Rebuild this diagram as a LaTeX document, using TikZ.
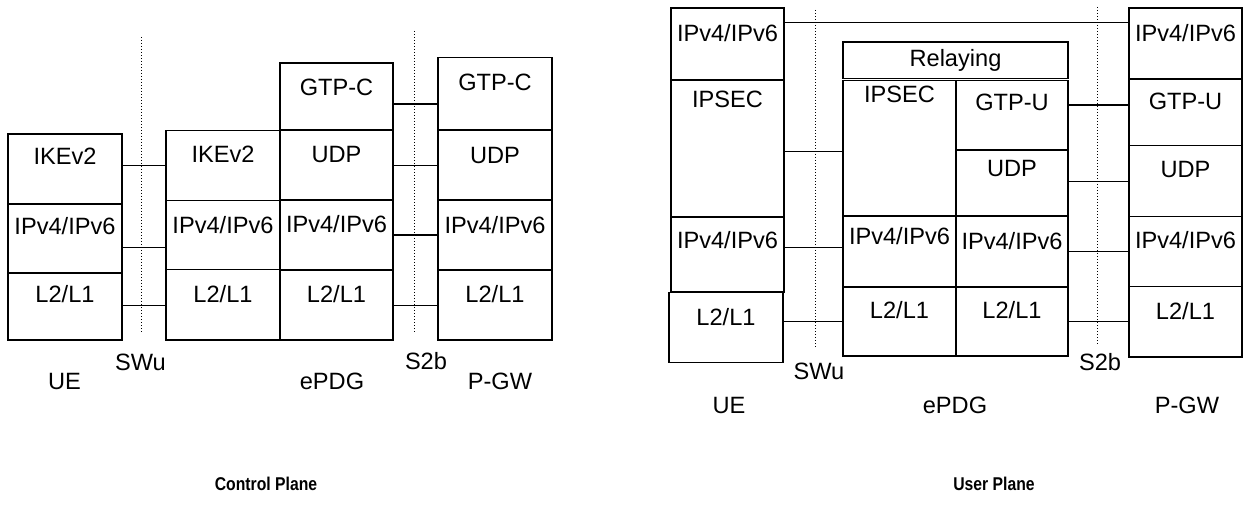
\documentclass[tikz,border=0pt]{standalone}
\usepackage{fontspec}
\setmainfont{Liberation Sans}
\tikzset{
  box/.style={draw, line width=1.6pt, outer sep=0pt, inner sep=0pt, anchor=north west},
  txt/.style={anchor=base, inner sep=0pt, font=\fontsize{23.6}{28}\selectfont},
  ttl/.style={anchor=base, inner sep=0pt, font=\fontsize{18.5}{22}\selectfont\bfseries},
  conn/.style={line width=1.4pt},
  sepline/.style={line width=1pt, dash pattern=on 1pt off 2pt},
}
% #1 baseline offset, #2 name, #3 x1, #4 y1, #5 x2, #6 y2, #7 text
\newcommand\layerbox[7][33]{%
  \node[box, minimum width={(#5)-(#3)}, minimum height={(#6)-(#4)}] (#2) at (#3,#4) {};
  \node[txt] (#2t) at ([yshift=-#1pt]#2.north) {#7};
}
\begin{document}
\begin{tikzpicture}[x=1pt,y=-1pt]
\useasboundingbox (0,0) rectangle (1243,513);
% ---------------- Control plane ----------------
\layerbox[31]{ueike}{8}{134}{122}{204}{IKEv2}
\layerbox[31]{ueip}{8}{204}{122}{273}{IPv4/IPv6}
\layerbox[29.4]{uel}{8}{273}{122}{340}{L2/L1}
\layerbox[32.3]{epike}{166}{130.5}{280}{200.5}{IKEv2}
\layerbox[32.6]{epipa}{166}{200.5}{280}{269.5}{IPv4/IPv6}
\layerbox[33.2]{epla}{166}{269.5}{280}{340}{L2/L1}
\layerbox[32.4]{epgtp}{280}{63}{393}{130}{GTP-C}
\layerbox[32.7]{epudp}{280}{130}{393}{200}{UDP}
\layerbox[33]{epipb}{280}{200}{393}{270}{IPv4/IPv6}
\layerbox[32.7]{eplb}{280}{270}{393}{340}{L2/L1}
\layerbox[33]{pggtp}{438}{57.7}{552}{130}{GTP-C}
\layerbox[33.3]{pgudp}{438}{130}{552}{200}{UDP}
\layerbox[33.3]{pgip}{438}{200}{552}{270}{IPv4/IPv6}
\layerbox[32.7]{pgl}{438}{270}{552}{340}{L2/L1}
\coordinate (swuAtop) at (141,37);
\coordinate (swuAbot) at (141,333);
\coordinate (s2bAtop) at (414,31);
\coordinate (s2bAbot) at (414,333);
\draw[sepline] (swuAtop) -- (swuAbot);
\draw[sepline] (s2bAtop) -- (s2bAbot);
\draw[conn] (ueike.east |- 0,165.3) -- (epike.west |- 0,165.3);
\draw[conn] (ueip.east |- 0,247.7) -- (epipa.west |- 0,247.7);
\draw[conn] (uel.east |- 0,305.5) -- (epla.west |- 0,305.5);
\draw[conn] (epgtp.east |- 0,104) -- (pggtp.west |- 0,104);
\draw[conn] (epudp.east |- 0,165.3) -- (pgudp.west |- 0,165.3);
\draw[conn] (epipb.east |- 0,235) -- (pgip.west |- 0,235);
\draw[conn] (eplb.east |- 0,305.7) -- (pgl.west |- 0,305.7);
\node[txt] (cue) at (64.5,389.5) {UE};
\node[txt] (cswu) at (140.4,370.7) {SWu};
\node[txt] (cepdg) at (332,389.5) {ePDG};
\node[txt] (cs2b) at (426,369.5) {S2b};
\node[txt] (cpgw) at (500,389.5) {P-GW};
\node[ttl] (cplane) at (266,490) {\scalebox{0.85}[1]{Control Plane}};
% ---------------- User plane ----------------
\layerbox[33.4]{uip}{671}{8.3}{784}{80}{IPv4/IPv6}
\layerbox[27.3]{uipsec}{671}{80}{784}{217.3}{IPSEC}
\layerbox[31.7]{uipb}{671}{217.3}{784}{292}{IPv4/IPv6}
\layerbox[33]{ul}{669}{292.7}{783}{362.3}{L2/L1}
\layerbox[25]{relay}{843}{42}{1068}{78.5}{Relaying}
\layerbox[22]{eipsec}{843}{80.5}{956}{216}{IPSEC}
\layerbox[30.3]{egtpu}{956}{80.5}{1068}{150}{GTP-U}
\layerbox[26.7]{eudp}{956}{150}{1068}{216}{UDP}
\layerbox[29]{eipa}{843}{216}{956}{287.3}{IPv4/IPv6}
\layerbox[34]{eipb}{956}{216}{1068}{287.3}{IPv4/IPv6}
\layerbox[31.7]{ela}{843}{287.3}{956}{356}{L2/L1}
\layerbox[31.7]{elb}{956}{287.3}{1068}{356}{L2/L1}
\layerbox[33.4]{pip}{1129}{8.3}{1242}{79}{IPv4/IPv6}
\layerbox[31]{pgtpu}{1129}{79}{1242}{145.7}{GTP-U}
\layerbox[31.6]{pudp}{1129}{145.7}{1242}{216.7}{UDP}
\layerbox[31.6]{pipb}{1129}{216.7}{1242}{286.7}{IPv4/IPv6}
\layerbox[32.6]{pl}{1129}{286.7}{1242}{356.7}{L2/L1}
\coordinate (swuBtop) at (815,10);
\coordinate (swuBbot) at (815,348);
\coordinate (s2bBtop) at (1097,7);
\coordinate (s2bBbot) at (1097,345);
\draw[sepline] (swuBtop) -- (swuBbot);
\draw[sepline] (s2bBtop) -- (s2bBbot);
\draw[conn] (uip.east |- 0,22.7) -- (pip.west |- 0,22.7);
\draw[conn] (uipsec.east |- 0,151.7) -- (eipsec.west |- 0,151.7);
\draw[conn] (uipb.east |- 0,247.7) -- (eipa.west |- 0,247.7);
\draw[conn] (ul.east |- 0,321.7) -- (ela.west |- 0,321.7);
\draw[conn] (egtpu.east |- 0,105) -- (pgtpu.west |- 0,105);
\draw[conn] (eudp.east |- 0,181.7) -- (pudp.west |- 0,181.7);
\draw[conn] (eipb.east |- 0,251.7) -- (pipb.west |- 0,251.7);
\draw[conn] (elb.east |- 0,321.7) -- (pl.west |- 0,321.7);
\node[txt] (uue) at (729,413) {UE};
\node[txt] (uswu) at (819,379) {SWu};
\node[txt] (uepdg) at (955,413) {ePDG};
\node[txt] (us2b) at (1100,370.7) {S2b};
\node[txt] (upgw) at (1187,413) {P-GW};
\node[ttl] (uplane) at (994,490) {\scalebox{0.85}[1]{User Plane}};
\end{tikzpicture}
\end{document}
